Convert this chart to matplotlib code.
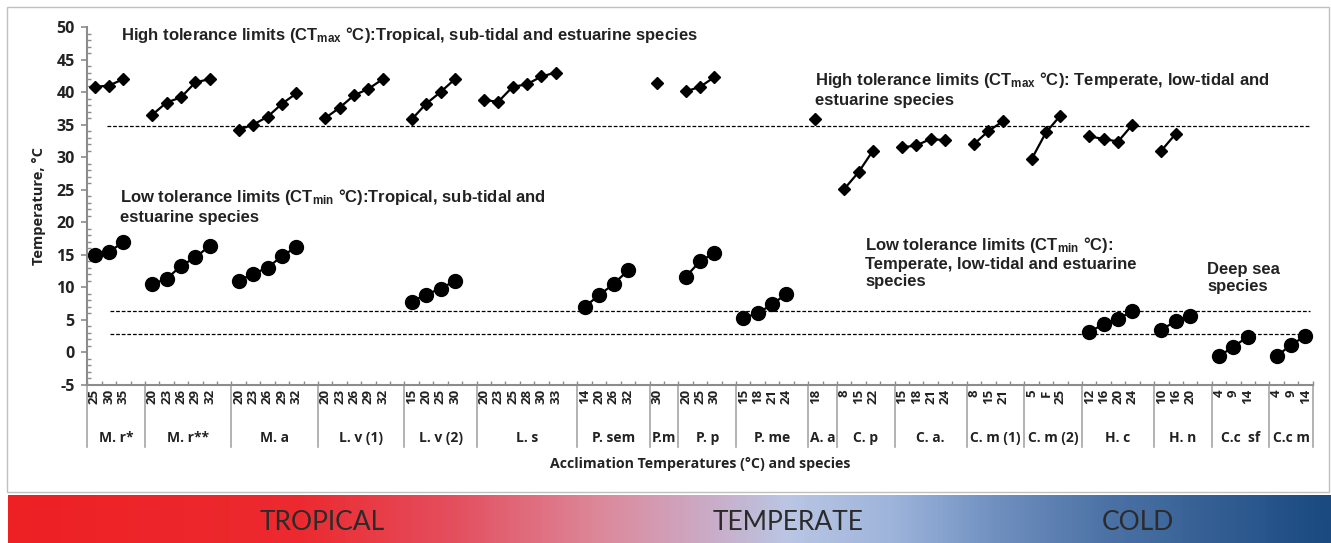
# critical thermal limits per species and acclimation temperature, with climate gradient bar underneath

import numpy as np
import matplotlib.pyplot as plt
from matplotlib.colors import LinearSegmentedColormap
from matplotlib.patches import Rectangle
import matplotlib.transforms as mtransforms

nan = np.nan

species = ['M. r*', 'M. r**', 'M. a', 'L. v (1)', 'L. v (2)', 'L. s', 'P. sem', 'P.m', 'P. p', 'P. me',
           'A. a', 'C. p', 'C. a.', 'C. m (1)', 'C. m (2)', 'H. c', 'H. n', 'C.c  sf', 'C.c m']
accl_temps = [['25', '30', '35'], ['20', '23', '26', '29', '32'], ['20', '23', '26', '29', '32'],
              ['20', '23', '26', '29', '32'], ['15', '20', '25', '30'], ['20', '23', '25', '28', '30', '33'],
              ['14', '20', '26', '32'], ['30'], ['20', '25', '30'], ['15', '18', '21', '24'], ['18'],
              ['8', '15', '22'], ['15', '18', '21', '24'], ['8', '15', '21'], ['5', 'F', '25'],
              ['12', '16', '20', '24'], ['10', '16', '20'], ['4', '9', '14'], ['4', '9', '14']]

# CTmax (diamonds)
ct_max = [[40.8, 41.0, 42.0],
          [36.5, 38.4, 39.2, 41.5, 42.0],
          [34.2, 35.0, 36.2, 38.2, 39.8],
          [36.0, 37.6, 39.5, 40.5, 42.0],
          [35.8, 38.2, 40.0, 42.0],
          [38.8, 38.5, 40.8, 41.2, 42.4, 43.0],
          [nan, nan, nan, nan],
          [41.4],
          [40.1, 40.8, 42.3],
          [nan, nan, nan, nan],
          [35.8],
          [25.1, 27.7, 31.0],
          [31.5, 31.8, 32.8, 32.6],
          [32.0, 34.0, 35.5],
          [29.7, 33.8, 36.4],
          [33.2, 32.8, 32.4, 35.0],
          [31.0, 33.6, nan],
          [nan, nan, nan],
          [nan, nan, nan]]

# CTmin (circles)
ct_min = [[14.9, 15.4, 17.0],
          [10.5, 11.3, 13.3, 14.6, 16.4],
          [11.0, 12.1, 13.0, 14.8, 16.2],
          [nan, nan, nan, nan, nan],
          [7.8, 8.9, 9.8, 11.0],
          [nan, nan, nan, nan, nan, nan],
          [7.0, 8.8, 10.5, 12.6],
          [nan],
          [11.6, 14.0, 15.3],
          [5.3, 6.0, 7.4, 9.0],
          [nan],
          [nan, nan, nan],
          [nan, nan, nan, nan],
          [nan, nan, nan],
          [nan, nan, nan],
          [3.2, 4.3, 5.2, 6.3],
          [3.5, 4.8, 5.6],
          [-0.6, 0.9, 2.4],
          [-0.6, 1.2, 2.5]]

ref_levels = [34.8, 6.4, 2.8]

plt.rcParams['mathtext.fontset'] = 'custom'
plt.rcParams['mathtext.rm'] = 'Liberation Sans:bold'
plt.rcParams['mathtext.it'] = 'Liberation Sans:bold'
plt.rcParams['mathtext.bf'] = 'Liberation Sans:bold'
plt.rcParams['axes.unicode_minus'] = False

W, H = 1331, 543
fig = plt.figure(figsize=(W / 100, H / 100), dpi=100)
ax = fig.add_axes([87.3 / W, 1 - 385 / H, 1225.4 / W, 358 / H])

axis_col = '#8c8c8c'
txt_col = '#222222'
lab_font = 'Open Sans'

# slot positions: one blank slot after every group except the last
starts = []
pos = 0
for g, temps in enumerate(accl_temps):
    starts.append(pos)
    pos += len(temps) + (1 if g < len(accl_temps) - 1 else 0)
n_slots = pos

tick_pos, tick_lab = [], []
for g, temps in enumerate(accl_temps):
    x = starts[g] + np.arange(len(temps))
    tick_pos += list(x)
    tick_lab += temps
    ax.plot(x, ct_max[g], '-D', color='black', ms=6.5, lw=1.6)
    ax.plot(x, ct_min[g], '-o', color='black', ms=10, lw=1.6)

# reference lines
ax.hlines(ref_levels[0], 0.9, 84.3, colors='black', linestyles=(0, (3, 1.5)), lw=0.9)
ax.hlines(ref_levels[1:], 1.1, 84.3, colors='black', linestyles=(0, (3, 1.5)), lw=0.9)

ax.set_xlim(-0.5, n_slots - 0.5)
ax.set_ylim(-5, 50)
ax.set_yticks(np.arange(-5, 51, 5))
ax.set_yticks(np.arange(-5, 51, 1), minor=True)
ax.set_xticks(tick_pos)
ax.set_xticklabels(tick_lab, rotation=90, fontsize=9.5, fontweight='bold', family=lab_font,
                   color=txt_col)
ax.set_xticks(np.arange(-0.5, n_slots, 1), minor=True)
for lab in ax.get_yticklabels():
    lab.set_fontsize(11.5)
    lab.set_fontweight('bold')
    lab.set_family(lab_font)
    lab.set_color(txt_col)

ax.tick_params(axis='x', which='major', length=0, pad=3)
ax.tick_params(axis='x', which='minor', direction='in', length=3, color=axis_col, width=1)
ax.tick_params(axis='y', which='major', direction='out', length=4, color=axis_col, width=1.2, pad=5)
ax.tick_params(axis='y', which='minor', direction='in', length=3, color=axis_col, width=1)

for s in ['top', 'right']:
    ax.spines[s].set_visible(False)
for s in ['left', 'bottom']:
    ax.spines[s].set_color(axis_col)
    ax.spines[s].set_linewidth(1.5)

# species group labels and separators
trans = mtransforms.blended_transform_factory(ax.transData, ax.transAxes)
bounds = [s - 0.5 for s in starts] + [n_slots - 0.5]
for b in bounds:
    ax.plot([b, b], [0, -0.173], transform=trans, color='#a6a6a6', lw=1.2, clip_on=False)
for g, name in enumerate(species):
    end = starts[g + 1] - 0.5 if g + 1 < len(starts) else n_slots - 0.5
    ax.text((starts[g] - 0.5 + end) / 2, -0.148, name, transform=trans, ha='center', va='center',
            fontsize=10, fontweight='bold', family=lab_font, color=txt_col)

ax.set_xlabel('Acclimation Temperatures (°C) and species', fontsize=10.2, fontweight='bold',
              family=lab_font, color=txt_col)
ax.xaxis.set_label_coords(0.5, -0.2)
ax.set_ylabel('Temperature, °C', fontsize=10.5, fontweight='bold', family=lab_font, color=txt_col)
ax.yaxis.set_label_coords(-0.034, 0.5)

# annotations
ann = dict(fontsize=12, fontweight='bold', family='Liberation Sans', color=txt_col,
           transform=fig.transFigure, va='center', ha='left', linespacing=1.2)
fig.text(121 / W, 1 - 35 / H, r'High tolerance limits ($\mathrm{CT_{max}}$ °C):Tropical, sub-tidal and estuarine species', **ann)
fig.text(815 / W, 1 - 89 / H, 'High tolerance limits ($\\mathrm{CT_{max}}$ °C): Temperate, low-tidal and\nestuarine species', **ann)
fig.text(120 / W, 1 - 206 / H, 'Low tolerance limits ($\\mathrm{CT_{min}}$ °C):Tropical, sub-tidal and\nestuarine species', **ann)
fig.text(865 / W, 1 - 262 / H, 'Low tolerance limits ($\\mathrm{CT_{min}}$ °C):\nTemperate, low-tidal and estuarine\nspecies', **ann)
fig.text(1207 / W, 1 - 278 / H, 'Deep sea\nspecies', **ann)

# chart frame
fig.patches.append(Rectangle((7 / W, 1 - 492 / H), 1322 / W, 485 / H, transform=fig.transFigure,
                             fill=False, ec='#c0c0c0', lw=1))

# climate gradient bar
cmap = LinearSegmentedColormap.from_list('climate', [
    (0.0, '#EE2024'), (0.22, '#EC2A30'), (0.34, '#E45060'), (0.45, '#DC8A9C'),
    (0.52, '#CDA7C2'), (0.59, '#BAC6E4'), (0.67, '#9DB4DA'), (0.75, '#6F8FBF'),
    (0.83, '#4D73A6'), (1.0, '#1A4A80')])
gax = fig.add_axes([8 / W, 0, 1 - 8 / W, 48 / H])
gax.imshow(np.linspace(0, 1, 600)[None, :], aspect='auto', cmap=cmap, extent=[0, 1, 0, 1])
gax.axis('off')
zones = ['TROPICAL', 'TEMPERATE', 'COLD']
zone_x = [322, 788, 1138]
for z, zx in zip(zones, zone_x):
    fig.text(zx / W, 21 / H, z, ha='center', va='center', fontsize=19, family='Lato', color='#2b2b2b')

fig.savefig('out.png', dpi=100)
